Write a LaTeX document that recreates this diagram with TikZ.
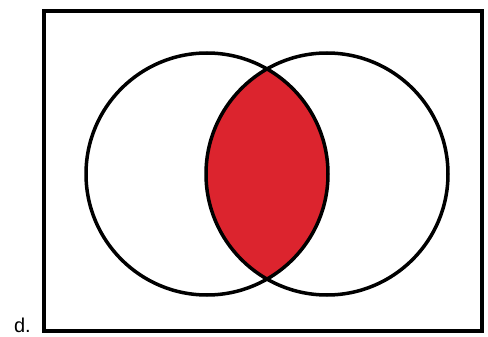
\documentclass[tikz,border=0pt]{standalone}
\usepackage{fontspec}
\setmainfont{Liberation Sans}
\definecolor{lensred}{RGB}{220,36,46}
\begin{document}
\begin{tikzpicture}[x=1pt,y=-1pt]
\useasboundingbox (0,0) rectangle (488,337);
\tikzset{setline/.style={draw=black, line width=3.5pt}}
\node[draw, line width=3.8pt, minimum width=438pt, minimum height=320pt, inner sep=0pt] (frame) at (263,171) {};
\coordinate (ca) at (207,174);
\coordinate (cb) at (327,174);
\begin{scope}
\clip (ca) circle (121);
\fill[lensred] (cb) circle (121);
\end{scope}
\draw[setline] (ca) circle (121);
\draw[setline] (cb) circle (121);
\node[anchor=base east, font=\fontsize{20}{24}\selectfont, inner sep=0pt] (lbl) at (31,332) {d.};
\end{tikzpicture}
\end{document}
